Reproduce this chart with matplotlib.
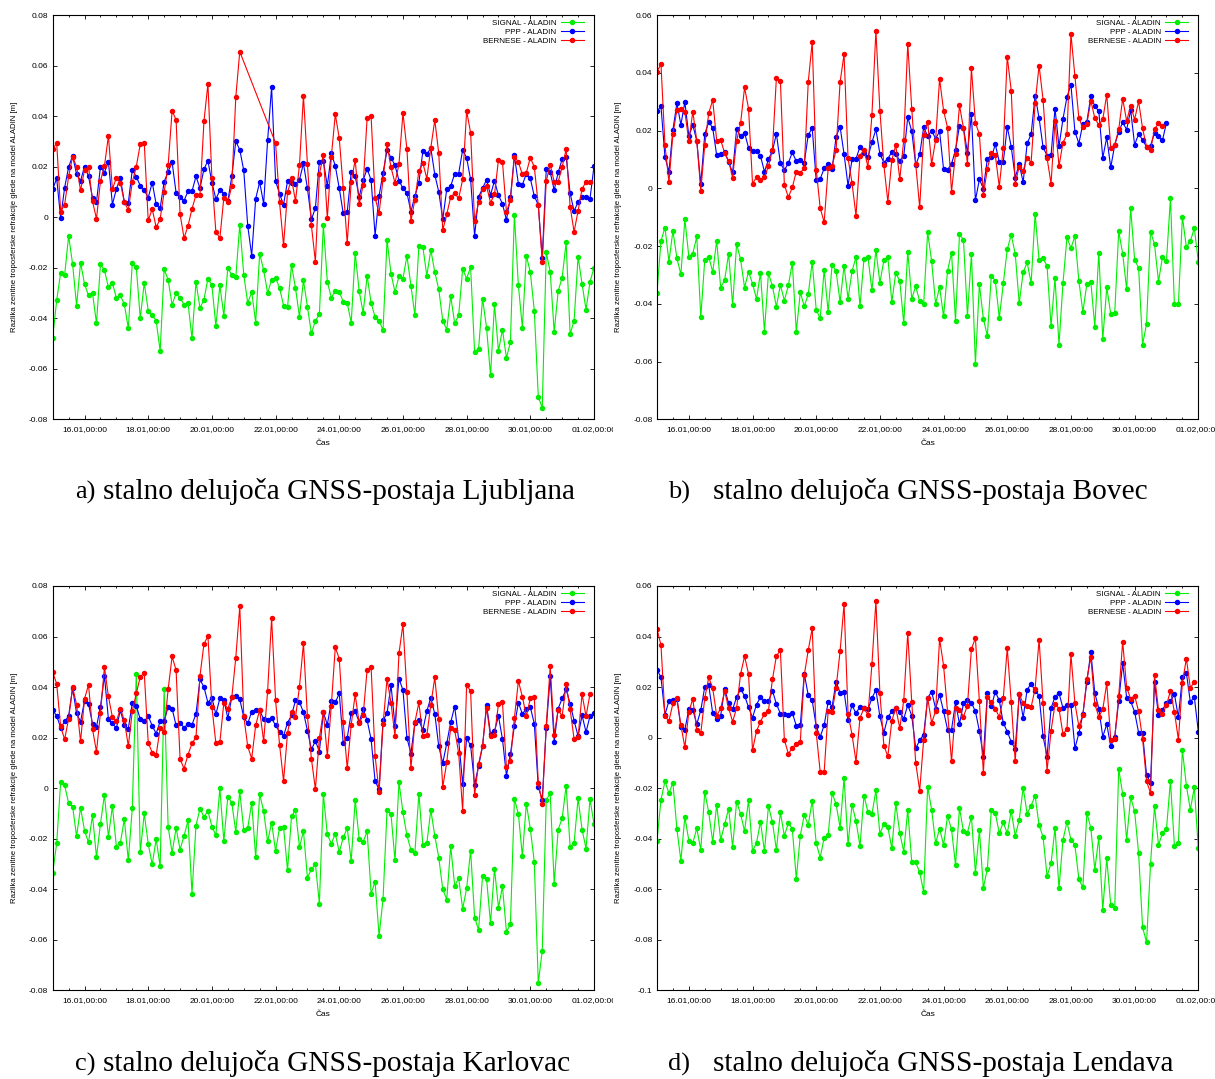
import numpy as np
import pandas as pd
import matplotlib
matplotlib.use("Agg")
import matplotlib.pyplot as plt
import matplotlib.dates as mdates
from matplotlib.ticker import MultipleLocator, FuncFormatter
from matplotlib.transforms import Bbox, TransformedBbox

plt.rcParams['font.family'] = ['Liberation Sans', 'DejaVu Sans']

# 3-hourly epochs, 15.01 00:00 .. 01.02 00:00
times = pd.date_range('2015-01-15 00:00', periods=137, freq='3h')
labels = ['SIGNAL - ALADIN', 'PPP - ALADIN', 'BERNESE - ALADIN']
nan = np.nan

# a) Ljubljana
signal_lj = [
    -0.0477, -0.0329, -0.022, -0.023, -0.0073, -0.0186, -0.035, -0.018, -0.0265, -0.031,
    -0.030, -0.042, -0.0186, -0.021, -0.0277, -0.026, -0.032, -0.031, -0.0345, -0.044,
    -0.018, -0.0198, -0.040, -0.026, -0.037, -0.0387, -0.041, -0.053, -0.0207, -0.0247,
    -0.0347, -0.030, -0.032, -0.0346, -0.034, -0.048, -0.0256, -0.036, -0.0326, -0.0243,
    -0.027, -0.043, -0.027, -0.039, -0.020, -0.023, -0.0238, -0.003, -0.0227, -0.034,
    -0.0296, -0.0417, -0.0144, -0.021, -0.030, -0.0248, -0.024, -0.028, -0.035, -0.0355,
    -0.019, -0.028, -0.0395, -0.025, -0.0355, -0.046, -0.041, -0.0385, -0.003, -0.0256,
    -0.0318, -0.0293, -0.0296, -0.0334, -0.034, -0.0418, -0.0141, -0.0293, -0.0378, -0.0232,
    -0.034, -0.0395, -0.041, -0.0447, -0.009, -0.0224, -0.0296, -0.0234, -0.0243, -0.0153,
    -0.0272, -0.0388, -0.0114, -0.0118, -0.0232, -0.0129, -0.0218, -0.0286, -0.041, -0.0445,
    -0.0313, -0.042, -0.0388, -0.0205, -0.0243, -0.0197, -0.0535, -0.052, -0.0322, -0.0437,
    -0.0626, -0.0345, -0.053, -0.0445, -0.0557, -0.0494, 0.001, -0.027, -0.0437, -0.0152,
    -0.0218, -0.037, -0.071, -0.0756, -0.0139, -0.0217, -0.0454, -0.0292, -0.0239, -0.010,
    -0.0463, -0.041, -0.0157, -0.0264, -0.0366, -0.0256, -0.020]
ppp_lj = [
    0.0111, 0.0153, -0.0003, 0.0117, 0.0198, 0.0243, 0.017, 0.0144, 0.020, 0.0162,
    0.0077, 0.0059, 0.020, 0.0176, 0.022, 0.005, 0.0112, 0.0154, 0.006, 0.0057,
    0.0187, 0.016, 0.0125, 0.0107, 0.0077, 0.0137, 0.0051, 0.0036, 0.014, 0.018,
    0.0218, 0.0096, 0.0078, 0.0065, 0.0103, 0.0103, 0.0161, 0.0115, 0.019, 0.0223,
    0.0137, 0.0071, 0.0107, 0.0092, 0.0063, 0.0162, 0.030, 0.0267, 0.0185, -0.0034,
    -0.0152, 0.0073, 0.0139, 0.0053, 0.0304, 0.0515, 0.0143, 0.0092, 0.0049, 0.0143,
    0.0136, 0.0131, 0.0148, 0.0213, 0.0114, -0.0009, 0.0036, 0.022, 0.0223, 0.0123,
    0.0252, 0.0203, 0.0114, 0.0015, 0.002, 0.0178, 0.0162, 0.008, 0.0147, 0.0191,
    0.0147, -0.0073, 0.0084, 0.0176, 0.0264, 0.0236, 0.0205, 0.0145, 0.0114, 0.0096,
    0.0022, 0.0084, 0.0136, 0.0261, 0.025, 0.0273, 0.0168, 0.01, -0.0008, 0.011,
    0.0123, 0.0172, 0.0172, 0.0267, 0.0234, 0.0149, -0.0074, 0.008, 0.0114, 0.0148,
    0.0088, 0.0144, 0.0086, 0.0053, -0.0011, 0.0078, 0.0244, 0.0132, 0.0128, 0.0172,
    0.0153, 0.0083, 0.0049, -0.016, 0.0189, 0.0178, 0.0107, 0.0177, 0.023, 0.024,
    0.0094, 0.0024, 0.006, 0.008, 0.0078, 0.0073, 0.0202]
bernese_lj = [
    0.0268, 0.0294, 0.0022, 0.005, 0.0161, 0.0239, 0.020, 0.0106, 0.0187, 0.020,
    0.0063, -0.0007, 0.0143, 0.0202, 0.0322, 0.0111, 0.0156, 0.0136, 0.006, 0.0028,
    0.0139, 0.020, 0.0289, 0.0294, -0.0013, 0.0032, -0.004, -0.0007, 0.0098, 0.0205,
    0.0421, 0.0385, 0.0012, -0.0083, -0.0034, 0.0033, 0.0088, 0.0086, 0.0379, 0.0528,
    0.0154, -0.0059, -0.0083, 0.0077, 0.0058, 0.0124, 0.0475, 0.0655, nan, nan,
    nan, nan, nan, nan, nan, nan, 0.0293, 0.0058, -0.0111, 0.0098,
    0.0153, 0.0063, 0.0206, 0.048, 0.0209, -0.0033, -0.0176, 0.017, 0.0246, -0.0004,
    0.0239, 0.0407, 0.0312, 0.0114, -0.0103, 0.014, 0.0226, 0.0051, 0.0127, 0.0393,
    0.0399, 0.0077, 0.0015, 0.015, 0.029, 0.0197, 0.0135, 0.021, 0.0412, 0.0269,
    -0.0015, 0.0069, 0.0182, 0.0215, 0.0152, 0.0275, 0.0384, 0.0252, -0.0051, 0.0011,
    0.008, 0.0094, 0.0074, 0.0149, 0.042, 0.0334, -0.0016, 0.0058, 0.0112, 0.0123,
    0.0057, 0.009, 0.0227, 0.0218, 0.0021, 0.0067, 0.0239, 0.0218, 0.0169, 0.0176,
    0.0235, 0.0199, 0.0048, -0.0176, 0.0143, 0.0207, 0.014, 0.014, 0.0199, 0.0268,
    0.0042, -0.0058, 0.0025, 0.0112, 0.014, 0.0139]

# b) Bovec
signal_bo = [
    -0.0362, -0.0182, -0.0136, -0.0254, -0.0147, -0.0242, -0.0298, -0.0107, -0.0237, -0.0226,
    -0.0167, -0.0447, -0.0248, -0.0237, -0.029, -0.0182, -0.0344, -0.0317, -0.0226, -0.0405,
    -0.0193, -0.0246, -0.0344, -0.0289, -0.033, -0.0383, -0.0293, -0.0496, -0.0294, -0.0339,
    -0.041, -0.0335, -0.0389, -0.0336, -0.0258, -0.0497, -0.036, -0.0409, -0.0367, -0.0255,
    -0.0421, -0.045, -0.0283, -0.0427, -0.0264, -0.0287, -0.0394, -0.0268, -0.0383, -0.0287,
    -0.0238, -0.0409, -0.0245, -0.0238, -0.0353, -0.0213, -0.0327, -0.025, -0.0239, -0.0394,
    -0.0292, -0.0322, -0.0468, -0.0219, -0.0382, -0.034, -0.0392, -0.04, -0.0152, -0.0253,
    -0.04, -0.0342, -0.0444, -0.0286, -0.0223, -0.0459, -0.0159, -0.0179, -0.0441, -0.0228,
    -0.0608, -0.0332, -0.0452, -0.0511, -0.0303, -0.032, -0.045, -0.0329, -0.0211, -0.0162,
    -0.0226, -0.0398, -0.0291, -0.0257, -0.0329, -0.0088, -0.0249, -0.0242, -0.027, -0.0477,
    -0.0312, -0.0542, -0.0329, -0.017, -0.0207, -0.0166, -0.0322, -0.0428, -0.0331, -0.0325,
    -0.0479, -0.0223, -0.0523, -0.0343, -0.0435, -0.0433, -0.0149, -0.0226, -0.035, -0.0067,
    -0.0248, -0.0275, -0.0541, -0.047, -0.015, -0.0194, -0.0323, -0.0238, -0.0252, -0.0035,
    -0.0402, -0.0402, -0.0098, -0.0204, -0.0183, -0.0138, -0.0254]
ppp_bo = [
    0.0267, 0.0284, 0.0108, 0.0058, 0.0202, 0.0295, 0.022, 0.0299, 0.0181, 0.0219,
    0.0164, 0.0014, 0.0187, 0.0231, 0.0208, 0.0114, 0.0118, 0.0127, 0.009, 0.0055,
    0.0205, 0.018, 0.0192, 0.014, 0.0129, 0.0129, 0.0112, 0.0057, 0.01, 0.0129,
    0.0189, 0.0087, 0.0063, 0.0087, 0.0125, 0.0093, 0.0099, 0.0088, 0.0185, 0.0208,
    0.0027, 0.0032, 0.0069, 0.0084, 0.0066, 0.0179, 0.0213, 0.0118, 0.0009, 0.01,
    0.0102, 0.0144, 0.0121, 0.0108, 0.0159, 0.0204, 0.0119, 0.0089, 0.0103, 0.0125,
    0.0119, 0.0095, 0.0112, 0.0246, 0.0198, 0.0081, 0.0117, 0.0211, 0.0181, 0.02,
    0.0172, 0.0197, 0.0066, 0.0065, 0.0084, 0.0133, 0.0216, 0.021, 0.0123, 0.0256,
    -0.0042, 0.0031, -0.0001, 0.0102, 0.0107, 0.0152, 0.0091, 0.0091, 0.0213, 0.0144,
    0.0037, 0.0084, 0.0021, 0.0156, 0.0187, 0.0321, 0.0243, 0.0142, 0.0113, 0.0114,
    0.0276, 0.0145, 0.024, 0.0316, 0.0359, 0.0196, 0.0155, 0.0224, 0.023, 0.032,
    0.0284, 0.0267, 0.0105, 0.0177, 0.0072, 0.015, 0.0196, 0.0228, 0.0203, 0.0271,
    0.015, 0.0188, 0.0168, 0.0143, 0.0147, 0.0192, 0.0181, 0.0166, 0.0227]
bernese_bo = [
    0.0404, 0.0429, 0.0151, 0.0021, 0.0188, 0.0271, 0.0275, 0.0265, 0.0163, 0.0265,
    0.0164, -0.0009, 0.015, 0.026, 0.0306, 0.0164, 0.0168, 0.0121, 0.0095, 0.0037,
    0.0164, 0.0225, 0.0349, 0.0276, 0.0016, 0.0038, 0.0028, 0.0039, 0.0076, 0.0133,
    0.0383, 0.0373, 0.0012, -0.0031, 0.0003, 0.0058, 0.0054, 0.007, 0.0368, 0.0507,
    0.0065, -0.0068, -0.0118, 0.0069, 0.0078, 0.0132, 0.0368, 0.0464, 0.0104, 0.0018,
    -0.0095, 0.0113, 0.0134, 0.0074, 0.0254, 0.0546, 0.0269, 0.008, -0.0046, 0.0097,
    0.015, 0.0031, 0.0168, 0.0501, 0.0276, 0.0084, -0.0066, 0.0185, 0.023, 0.0084,
    0.0167, 0.0379, 0.0269, 0.021, -0.0012, 0.012, 0.0287, 0.0208, 0.0084, 0.0415,
    0.0227, 0.0187, -0.0024, 0.0068, 0.0123, 0.0114, 0.0005, 0.014, 0.0456, 0.0338,
    0.0016, 0.0075, 0.0061, 0.0106, 0.0089, 0.0295, 0.0425, 0.0306, 0.0105, 0.0016,
    0.0233, 0.0076, 0.0158, 0.0187, 0.0534, 0.0389, 0.0242, 0.0211, 0.0224, 0.0303,
    0.0243, 0.0219, 0.0239, 0.0324, 0.014, 0.015, 0.0204, 0.031, 0.0233, 0.0286,
    0.0238, 0.0301, 0.0207, 0.0144, 0.0133, 0.0205, 0.0225, 0.0215]

# c) Karlovac
signal_ka = [
    -0.0334, -0.0218, 0.0024, 0.0011, -0.0059, -0.0073, -0.019, -0.0077, -0.0169, -0.0215,
    -0.0108, -0.0273, -0.0141, -0.0026, -0.0193, -0.0071, -0.0231, -0.0216, -0.0123, -0.0286,
    -0.0077, 0.0453, -0.0253, -0.01, -0.022, -0.0302, -0.0202, -0.031, 0.0392, -0.0152,
    -0.0256, -0.0158, -0.0243, -0.0189, -0.0128, -0.0417, -0.0148, -0.0081, -0.0114, -0.009,
    -0.0152, -0.0186, 0.0, -0.0211, -0.0034, -0.0058, -0.0173, -0.0013, -0.0165, -0.0158,
    -0.0058, -0.0273, -0.0024, -0.0091, -0.0211, -0.0136, -0.0249, -0.0156, -0.0154, -0.0325,
    -0.0112, -0.0086, -0.0234, -0.017, -0.0354, -0.0321, -0.03, -0.0457, -0.0024, -0.0183,
    -0.022, -0.018, -0.0253, -0.0195, -0.0158, -0.0288, -0.0046, -0.0201, -0.0213, -0.017,
    -0.0417, -0.037, -0.0585, -0.0438, -0.0088, -0.0104, -0.0286, 0.0024, -0.0096, -0.0187,
    -0.0244, -0.0255, -0.0022, -0.0224, -0.0218, -0.0086, -0.0189, -0.0275, -0.04, -0.0441,
    -0.023, -0.0387, -0.0356, -0.0478, -0.0397, -0.0247, -0.0512, -0.0561, -0.0347, -0.0358,
    -0.0535, -0.0318, -0.0473, -0.0389, -0.0568, -0.0539, -0.0042, -0.0102, -0.0269, -0.0061,
    -0.0161, -0.0292, -0.0772, -0.0643, -0.0046, -0.0021, -0.0378, -0.0164, -0.0119, 0.0009,
    -0.0231, -0.0218, -0.004, -0.0164, -0.0239, -0.0042, -0.0143]
ppp_ka = [
    0.0308, 0.0286, 0.0239, 0.0264, 0.0286, 0.0395, 0.0296, 0.0263, 0.0346, 0.0334,
    0.0255, 0.0243, 0.0322, 0.0445, 0.0273, 0.0256, 0.0238, 0.0308, 0.0249, 0.0236,
    0.0337, 0.0326, 0.0273, 0.0264, 0.0285, 0.0247, 0.0216, 0.0265, 0.0267, 0.0321,
    0.0315, 0.0248, 0.0257, 0.024, 0.0253, 0.0251, 0.0294, 0.043, 0.040, 0.0338,
    0.0358, 0.0292, 0.0356, 0.035, 0.0277, 0.036, 0.0366, 0.0352, 0.0281, 0.0256,
    0.0302, 0.0308, 0.0308, 0.0273, 0.0271, 0.0276, 0.0249, 0.0223, 0.0206, 0.0259,
    0.0288, 0.0347, 0.0341, 0.030, 0.0228, 0.0153, 0.0187, 0.0145, 0.030, 0.0251,
    0.0343, 0.0339, 0.0375, 0.0177, 0.0199, 0.0298, 0.0305, 0.0261, 0.0312, 0.0269,
    0.0193, 0.0028, -0.0005, 0.0269, 0.0296, 0.0408, 0.0247, 0.0433, 0.0388, 0.0199,
    0.0137, 0.0259, 0.0268, 0.023, 0.0305, 0.0358, 0.0294, 0.0165, 0.0099, 0.0177,
    0.0261, 0.0323, 0.0191, 0.0017, 0.0197, 0.0169, 0.0012, 0.0088, 0.0165, 0.0331,
    0.0215, 0.0226, 0.0285, 0.0194, 0.005, 0.0135, 0.0247, 0.0338, 0.0294, 0.0314,
    0.0321, 0.0255, 0.0005, -0.0045, 0.0238, 0.0442, 0.0183, 0.0315, 0.0355, 0.0391,
    0.0334, 0.0267, 0.0206, 0.0288, 0.0222, 0.0286, 0.0297]
bernese_ka = [
    0.0459, 0.0413, 0.0244, 0.0193, 0.0275, 0.040, 0.0331, 0.0185, 0.0354, 0.0409,
    0.0234, 0.0144, 0.0298, 0.0479, 0.0363, 0.0281, 0.0264, 0.0315, 0.0268, 0.0166,
    0.0305, 0.0375, 0.044, 0.0457, 0.018, 0.0141, 0.0132, 0.0238, 0.0224, 0.0391,
    0.0521, 0.0467, 0.0116, 0.0077, 0.0133, 0.0177, 0.0201, 0.0444, 0.057, 0.0602,
    0.0322, 0.0177, 0.0182, 0.0338, 0.0314, 0.036, 0.0516, 0.0719, 0.0286, 0.0165,
    0.0117, 0.0249, 0.0309, 0.0185, 0.0384, 0.0673, 0.0347, 0.0172, 0.0028, 0.0218,
    0.0301, 0.028, 0.0401, 0.0573, 0.0285, 0.0116, -0.0004, 0.0199, 0.0301, 0.0128,
    0.0327, 0.0557, 0.0512, 0.026, 0.0079, 0.0251, 0.0371, 0.0257, 0.0289, 0.0469,
    0.0479, 0.0128, -0.0015, 0.0253, 0.0432, 0.0337, 0.0205, 0.0533, 0.0649, 0.0379,
    0.0078, 0.0261, 0.0339, 0.0205, 0.0209, 0.033, 0.0438, 0.0272, 0.0004, 0.0102,
    0.0239, 0.023, 0.0139, -0.009, 0.0408, 0.0384, -0.0028, 0.0096, 0.0168, 0.0319,
    0.0205, 0.0209, 0.0333, 0.0339, 0.0082, 0.0108, 0.0277, 0.0424, 0.0362, 0.0285,
    0.0355, 0.036, 0.002, -0.0061, 0.0247, 0.0482, 0.0211, 0.031, 0.0285, 0.0411,
    0.0312, 0.0194, 0.0201, 0.0372, 0.0284, 0.0374]

# d) Lendava
signal_le = [
    -0.0408, -0.0246, -0.0173, -0.022, -0.0178, -0.0362, -0.0487, -0.0313, -0.0408, -0.0416,
    -0.0359, -0.0444, -0.0215, -0.0296, -0.0413, -0.0265, -0.0405, -0.0343, -0.0281, -0.0433,
    -0.0253, -0.0302, -0.037, -0.0247, -0.0449, -0.0417, -0.0333, -0.045, -0.0271, -0.0334,
    -0.0444, -0.0296, -0.0389, -0.0338, -0.0362, -0.0558, -0.0388, -0.0306, -0.0346, -0.0249,
    -0.0418, -0.0475, -0.0396, -0.0385, -0.022, -0.0264, -0.0356, -0.016, -0.0422, -0.0265,
    -0.033, -0.043, -0.023, -0.0294, -0.0304, -0.0209, -0.038, -0.0342, -0.0355, -0.0438,
    -0.026, -0.0379, -0.0451, -0.0285, -0.0492, -0.0494, -0.0533, -0.0611, -0.0194, -0.0285,
    -0.0418, -0.036, -0.0425, -0.031, -0.0363, -0.0504, -0.0279, -0.0371, -0.0376, -0.0313,
    -0.0536, -0.0366, -0.0595, -0.0519, -0.0285, -0.0298, -0.0379, -0.0335, -0.0379, -0.029,
    -0.0389, -0.0326, -0.0198, -0.0301, -0.0269, -0.023, -0.0347, -0.0393, -0.0548, -0.0498,
    -0.0358, -0.0597, -0.0405, -0.0334, -0.0404, -0.0425, -0.0561, -0.0593, -0.0297, -0.0358,
    -0.0523, -0.0395, -0.0681, -0.0477, -0.0663, -0.0676, -0.0124, -0.0223, -0.0404, -0.0235,
    -0.0292, -0.0457, -0.0751, -0.081, -0.0499, -0.0271, -0.0425, -0.0378, -0.0362, -0.0172,
    -0.0428, -0.0416, -0.0048, -0.019, -0.0285, -0.0197, -0.0437]
ppp_le = [
    0.0269, 0.0238, 0.0091, 0.0145, 0.0149, 0.0154, 0.0042, 0.0032, 0.0112, 0.011,
    0.0054, 0.0108, 0.0201, 0.0207, 0.0096, 0.0075, 0.0087, 0.0194, 0.0135, 0.0112,
    0.016, 0.0191, 0.0166, 0.012, 0.0079, 0.0131, 0.016, 0.0145, 0.0143, 0.0186,
    0.0133, 0.0095, 0.0092, 0.0091, 0.0099, 0.0046, 0.0048, 0.0253, 0.0168, 0.0147,
    0.0044, 0.0003, 0.0049, 0.0141, 0.0123, 0.0222, 0.0176, 0.0181, 0.0069, 0.0128,
    0.0096, 0.0123, 0.0117, 0.0112, 0.0156, 0.0189, 0.0084, 0.002, 0.0081, 0.0104,
    0.0116, 0.0103, 0.0074, 0.0129, 0.0087, -0.0042, -0.0011, 0.0012, 0.0157, 0.0182,
    0.0115, 0.017, 0.0104, 0.0032, 0.0032, 0.0139, 0.0054, 0.0135, 0.0147, 0.0137,
    0.0104, 0.0026, -0.0075, 0.0178, 0.0124, 0.0181, 0.0147, 0.0058, 0.0024, -0.0017,
    -0.0045, 0.0172, 0.0079, 0.019, 0.0213, 0.0186, 0.0166, 0.0005, -0.0075, 0.0116,
    0.0162, 0.0176, 0.0117, 0.0128, 0.0129, -0.0042, 0.0017, 0.0092, 0.0222, 0.0339,
    0.0176, 0.0115, 0.0004, 0.0053, -0.0034, 0.0003, 0.0145, 0.0294, 0.0158, 0.0144,
    0.0102, 0.002, 0.0017, -0.0148, -0.0178, 0.0219, 0.0088, 0.0111, 0.0136, 0.0143,
    0.0172, 0.0081, 0.024, 0.0257, 0.0141, 0.0161, 0.0024]
bernese_le = [
    0.0429, 0.0366, 0.0084, 0.0066, 0.0135, 0.0156, 0.0049, -0.0038, 0.0102, 0.0153,
    0.0029, 0.0017, 0.0156, 0.0238, 0.0195, 0.0087, 0.0116, 0.0183, 0.0117, 0.0063,
    0.0117, 0.0251, 0.0322, 0.0252, -0.005, 0.0026, 0.0063, 0.0095, 0.0107, 0.023,
    0.0323, 0.0346, -0.0009, -0.0063, -0.0042, -0.0024, -0.0017, 0.0247, 0.0346, 0.0433,
    0.002, -0.0135, -0.0136, 0.0106, 0.0103, 0.0198, 0.0342, 0.0529, 0.0095, 0.0012,
    -0.0095, 0.0078, 0.0116, 0.009, 0.029, 0.054, 0.0177, -0.0032, -0.0074, 0.0067,
    0.0117, 0.0037, 0.0148, 0.0414, 0.0141, -0.0099, -0.021, -0.0008, 0.0158, 0.0059,
    0.0104, 0.0391, 0.0285, 0.0103, -0.0094, 0.0116, 0.0111, 0.0083, 0.0127, 0.0352,
    0.0393, 0.0143, -0.0141, 0.0161, 0.014, 0.0115, 0.0081, 0.0156, 0.0354, 0.0141,
    -0.0094, 0.0172, 0.0135, 0.0124, 0.0121, 0.0193, 0.0388, 0.0136, -0.0131, 0.0026,
    0.0133, 0.0115, 0.0013, 0.0034, 0.0329, 0.0136, 0.0045, 0.009, 0.023, 0.0319,
    0.0132, 0.0083, 0.0112, 0.0216, -0.0009, -0.0004, 0.0164, 0.038, 0.0198, 0.0154,
    0.0166, 0.0104, -0.0004, -0.0173, -0.0219, 0.0247, 0.011, 0.0095, 0.0128, 0.0185,
    0.0102, -0.0008, 0.0216, 0.0313, 0.0197, 0.022]

W, H = 1215, 1079
fig = plt.figure(figsize=(W / 100, H / 100), dpi=100)

colors = ['#00ee00', '#0000ff', '#ff0000']
major_days = pd.date_range('2015-01-16', '2015-02-01', freq='2D')
minor_days = pd.date_range(times[0], times[-1], freq='12h')
ylab = 'Razlika zenitne troposferske refrakcije glede na model ALADIN [m]'


def fmt_y(v, pos):
    v = round(v, 4)
    return '0' if v == 0 else f'{v:g}'


def draw_panel(left_px, top_px, series, ylim, clip_px=None):
    rect = [left_px / W, 1 - (top_px + 404.3) / H, 541.3 / W, 404.3 / H]
    ax = fig.add_axes(rect)
    for vals, color, label in zip(series, colors, labels):
        y = np.array(vals, dtype=float)
        x = times[:len(y)]
        ok = ~np.isnan(y)  # gaps are bridged, as in the original
        ax.plot(x[ok], y[ok], color=color, lw=0.8, marker='o', ms=2.9,
                label=label)
    ax.set_xlim(times[0], times[-1])
    ax.set_ylim(*ylim)
    ax.set_xticks(major_days)
    ax.set_xticks(minor_days, minor=True)
    ax.xaxis.set_major_formatter(mdates.DateFormatter('%d.%m,%H:%M'))
    ax.yaxis.set_major_locator(MultipleLocator(0.02))
    ax.yaxis.set_major_formatter(FuncFormatter(fmt_y))
    ax.tick_params(which='both', direction='in', top=True, right=True,
                   width=0.6, labelsize=6, colors='black')
    ax.tick_params(which='major', length=3)
    ax.tick_params(which='minor', length=1.7)
    ax.tick_params(axis='x', pad=5)
    ax.tick_params(axis='y', pad=3.3)
    for sp in ax.spines.values():
        sp.set_linewidth(0.8)
    ax.set_ylabel(ylab, fontsize=5.6)
    ax.yaxis.set_label_coords(-0.065, 0.5)
    ax.set_xlabel('Čas', fontsize=6)
    ax.xaxis.set_label_coords(0.5, -0.051)
    ax.legend(loc='upper right', bbox_to_anchor=(0.9815, 0.989),
              borderaxespad=0, borderpad=0, frameon=False, markerfirst=False,
              fontsize=5.8, handlelength=2.9, handletextpad=0.5,
              labelspacing=0.15)
    if clip_px is not None:
        # the left panels' last tick label is cut, as in the source image
        box = TransformedBbox(Bbox([[0, 0], [clip_px / W, 1]]), fig.transFigure)
        for t in ax.xaxis.get_major_ticks():
            t.label1.set_clip_box(box)
            t.label1.set_clip_on(True)
    return ax


draw_panel(52.7, 15, [signal_lj, ppp_lj, bernese_lj], (-0.08, 0.08), clip_px=613)
draw_panel(657, 15, [signal_bo, ppp_bo, bernese_bo], (-0.08, 0.06))
draw_panel(52.7, 586, [signal_ka, ppp_ka, bernese_ka], (-0.08, 0.08), clip_px=613)
draw_panel(657, 586, [signal_le, ppp_le, bernese_le], (-0.1, 0.06))

captions = [
    (75, 103, 499, 'a)', 'stalno delujoča GNSS-postaja Ljubljana'),
    (668, 713, 499, 'b)', 'stalno delujoča GNSS-postaja Bovec'),
    (75, 103, 1071, 'c)', 'stalno delujoča GNSS-postaja Karlovac'),
    (668, 713, 1071, 'd)', 'stalno delujoča GNSS-postaja Lendava'),
]
for xl, xt, yb, tag, txt in captions:
    fig.text(xl / W, 1 - yb / H, tag, family='Liberation Serif', fontsize=19,
             va='baseline')
    fig.text(xt / W, 1 - yb / H, txt, family='Liberation Serif', fontsize=21.2,
             va='baseline')

fig.savefig('out.png', dpi=100)
